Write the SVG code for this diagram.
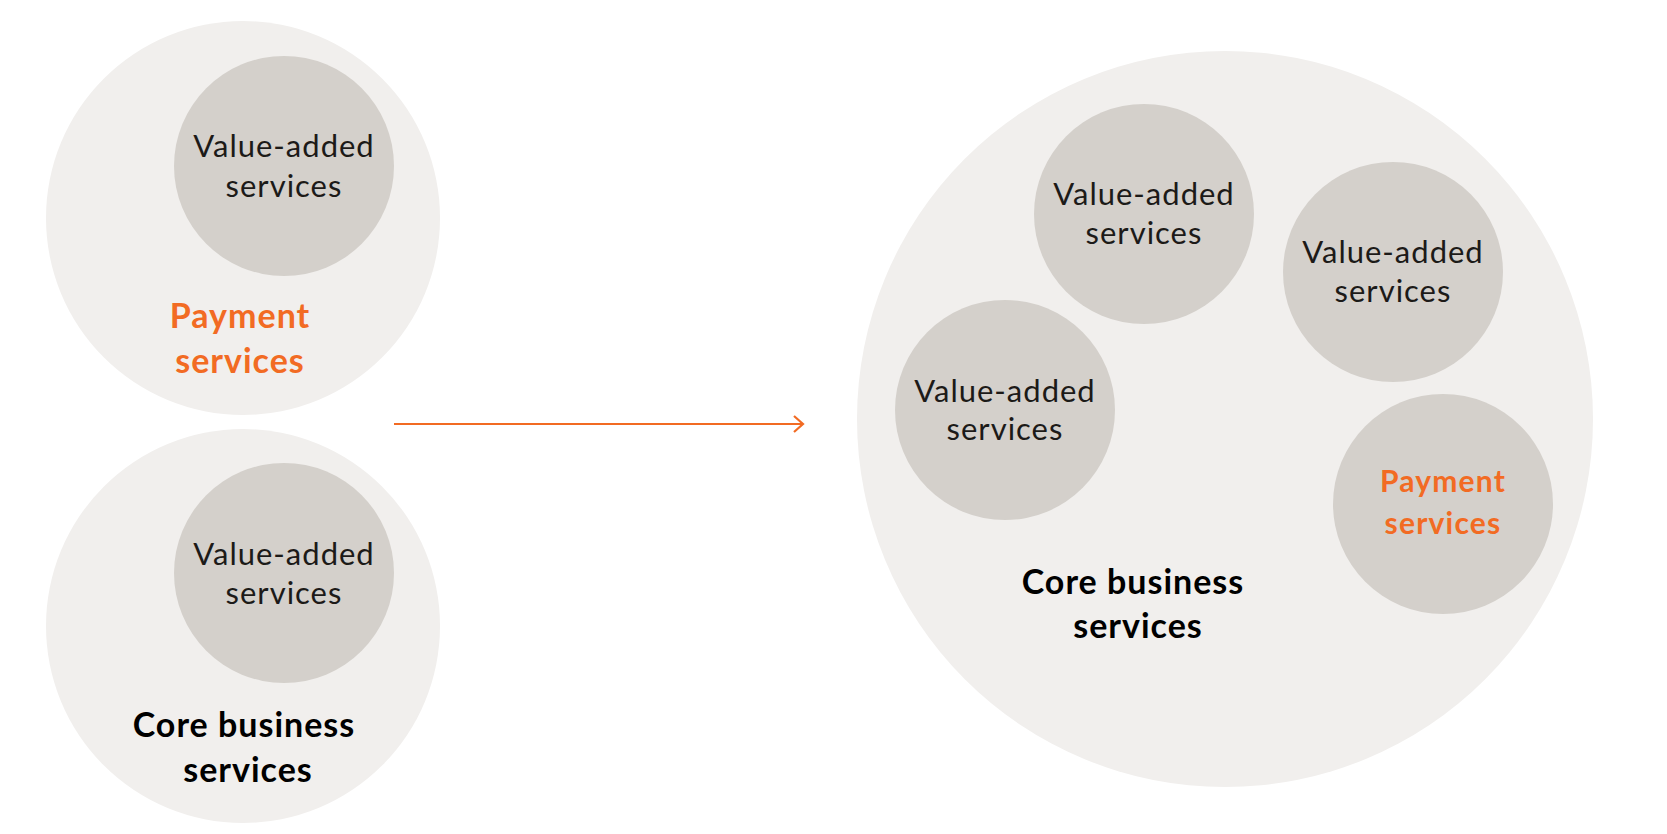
<svg xmlns="http://www.w3.org/2000/svg" width="1667" height="834" viewBox="0 0 1667 834">
<style>
.outer{fill:#F1EFED}
.inner{fill:#D4D0CB}
.reg{font-family:Lato,"Open Sans",sans-serif;font-size:31px;fill:#1C1A18;text-anchor:middle;letter-spacing:1px}
.bold{font-family:Lato,"Open Sans",sans-serif;font-weight:bold;font-size:34px;fill:#000;text-anchor:middle;letter-spacing:1px}
.orange{fill:#F26B23}
.small{font-size:30px;letter-spacing:1.2px}
.conn{stroke:#F26B23;stroke-width:2;fill:none}
</style>
<defs>
<marker id="chev" markerWidth="14" markerHeight="20" refX="11" refY="10" orient="auto" markerUnits="userSpaceOnUse">
<path d="M2,2 L11,10 L2,18" stroke="#F26B23" stroke-width="2.2" fill="none"/>
</marker>
</defs>
<rect width="1667" height="834" fill="#fff"/>
<g id="payment-left">
<circle class="outer" cx="243" cy="218" r="197"/>
<text class="bold orange" x="240" y="328">Payment</text>
<text class="bold orange" x="240" y="373">services</text>
</g>
<g id="vas-left-top">
<circle class="inner" cx="284" cy="166" r="110"/>
<text class="reg" x="284" y="157">Value-added</text>
<text class="reg" x="284" y="197">services</text>
</g>
<g id="core-left">
<circle class="outer" cx="243" cy="626" r="197"/>
<text class="bold" x="244" y="737">Core business</text>
<text class="bold" x="248" y="782">services</text>
</g>
<g id="vas-left-bottom">
<circle class="inner" cx="284" cy="573" r="110"/>
<text class="reg" x="284" y="565">Value-added</text>
<text class="reg" x="284" y="604">services</text>
</g>
<g id="core-right">
<circle class="outer" cx="1225" cy="419" r="368"/>
<text class="bold" x="1133" y="594">Core business</text>
<text class="bold" x="1138" y="638">services</text>
</g>
<g id="vas-right-a">
<circle class="inner" cx="1144" cy="214" r="110"/>
<text class="reg" x="1144" y="205">Value-added</text>
<text class="reg" x="1144" y="244">services</text>
</g>
<g id="vas-right-b">
<circle class="inner" cx="1005" cy="410" r="110"/>
<text class="reg" x="1005" y="402">Value-added</text>
<text class="reg" x="1005" y="440">services</text>
</g>
<g id="vas-right-c">
<circle class="inner" cx="1393" cy="272" r="110"/>
<text class="reg" x="1393" y="263">Value-added</text>
<text class="reg" x="1393" y="302">services</text>
</g>
<g id="payment-right">
<circle class="inner" cx="1443" cy="504" r="110"/>
<text class="bold orange small" x="1443" y="492">Payment</text>
<text class="bold orange small" x="1443" y="534">services</text>
</g>
<g id="connectors">
<line class="conn" x1="394" y1="424" x2="803" y2="424" marker-end="url(#chev)"/>
</g>
</svg>
